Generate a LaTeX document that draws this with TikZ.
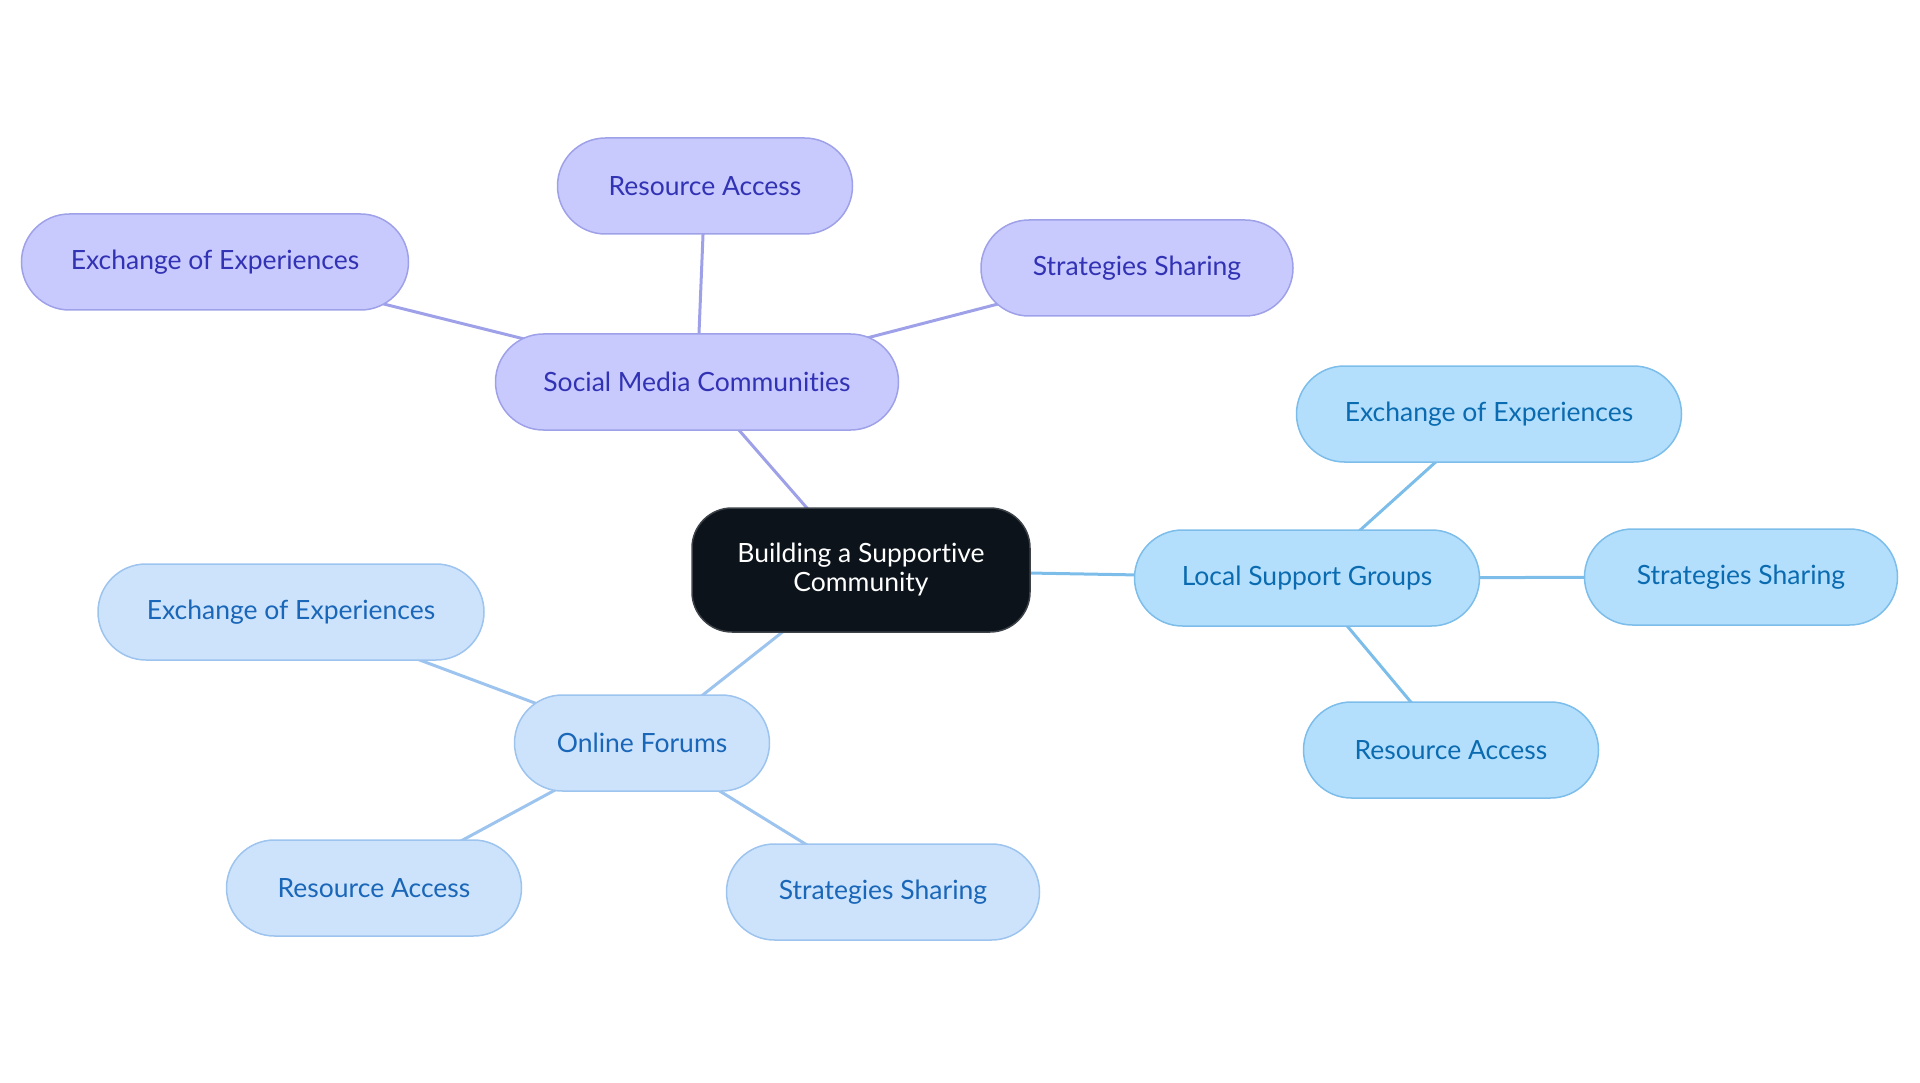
\documentclass[tikz,border=0pt]{standalone}
\usepackage{fontspec}
\setmainfont{Lato}[Ligatures={NoCommon,NoRequired,NoContextual}]
\usetikzlibrary{backgrounds}

\definecolor{rootfill}{HTML}{0C131B}
\definecolor{smfill}{HTML}{C8CAFE}
\definecolor{smline}{HTML}{9EA1E8}
\definecolor{smtext}{HTML}{3232B4}
\definecolor{lsfill}{HTML}{B3DFFD}
\definecolor{lsline}{HTML}{7CBDEA}
\definecolor{lstext}{HTML}{0B6BB0}
\definecolor{offill}{HTML}{CCE3FB}
\definecolor{ofline}{HTML}{9DC4EE}
\definecolor{oftext}{HTML}{1A66B8}

\tikzset{
  pill/.style={rectangle,rounded corners=48pt,minimum height=96pt,inner xsep=40pt,
    line width=1.5pt,font=\fontsize{26.5}{29}\selectfont,align=center},
  rootnode/.style={pill,fill=rootfill,draw=rootfill!80!white,text=white,
    minimum height=124pt,rounded corners=40pt},
  smnode/.style={pill,fill=smfill,draw=smline,text=smtext},
  lsnode/.style={pill,fill=lsfill,draw=lsline,text=lstext},
  ofnode/.style={pill,fill=offill,draw=ofline,text=oftext},
  link/.style={line width=3pt}
}

\begin{document}
\begin{tikzpicture}[x=1pt,y=-1pt]
\useasboundingbox (0,0) rectangle (1920,1083);
\node[rootnode,minimum width=338pt] (root) at (861,570) {Building a Supportive\\Community};

\node[smnode,minimum width=403pt] (social) at (697,382) {Social Media Communities};
\node[smnode,minimum width=295pt] (smres) at (705,186) {Resource Access};
\node[smnode,minimum width=387pt] (smexp) at (215,262) {Exchange of Experiences};
\node[smnode,minimum width=312pt] (smstr) at (1137,268) {Strategies Sharing};

\node[lsnode,minimum width=345pt] (local) at (1307,578) {Local Support Groups};
\node[lsnode,minimum width=385pt] (lsexp) at (1489,414) {Exchange of Experiences};
\node[lsnode,minimum width=313pt] (lsstr) at (1741,577) {Strategies Sharing};
\node[lsnode,minimum width=295pt] (lsres) at (1451,750) {Resource Access};

\node[ofnode,minimum width=255pt] (forums) at (642,743) {Online Forums};
\node[ofnode,minimum width=386pt] (ofexp) at (291,612) {Exchange of Experiences};
\node[ofnode,minimum width=295pt] (ofres) at (374,888) {Resource Access};
\node[ofnode,minimum width=313pt] (ofstr) at (883,892) {Strategies Sharing};

\begin{scope}[on background layer]
\draw[link,smline] (root.center) -- (social.center);
\draw[link,smline] (social.center) -- (smres.center);
\draw[link,smline] (social.center) -- (smexp.center);
\draw[link,smline] (social.center) -- (smstr.center);
\draw[link,lsline] (root.center) -- (local.center);
\draw[link,lsline] (local.center) -- (lsexp.center);
\draw[link,lsline] (local.center) -- (lsstr.center);
\draw[link,lsline] (local.center) -- (lsres.center);
\draw[link,ofline] (root.center) -- (forums.center);
\draw[link,ofline] (forums.center) -- (ofexp.center);
\draw[link,ofline] (forums.center) -- (ofres.center);
\draw[link,ofline] (forums.center) -- (ofstr.center);
\end{scope}
\end{tikzpicture}
\end{document}
